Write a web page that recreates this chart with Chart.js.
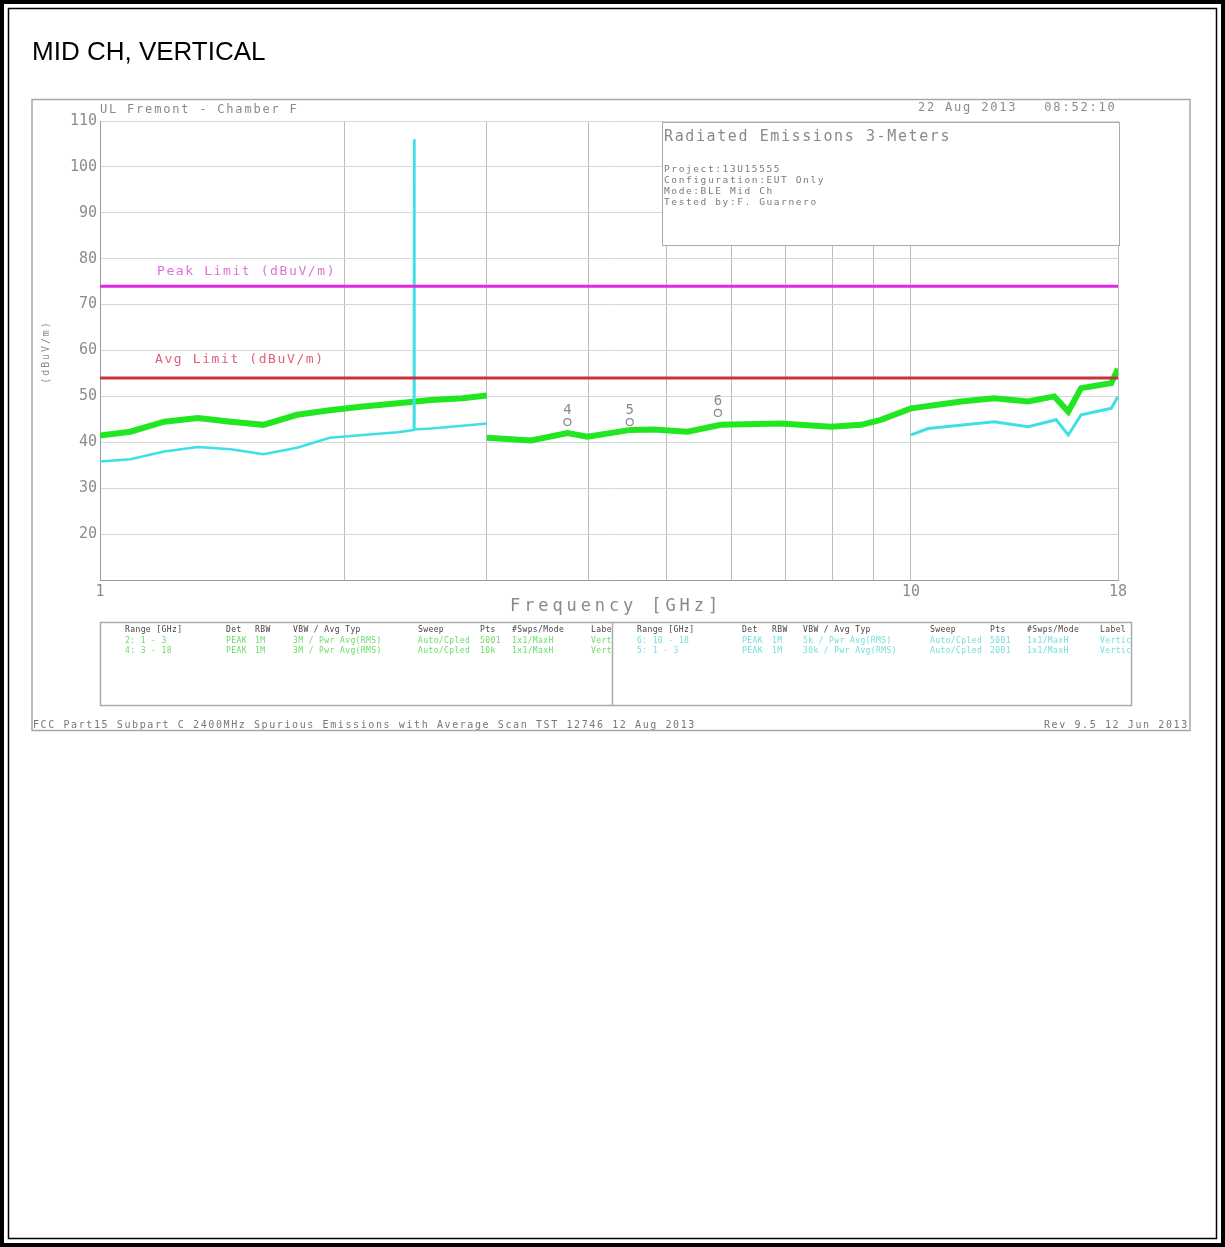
<!DOCTYPE html>
<html>
<head>
<meta charset="utf-8">
<title>MID CH, VERTICAL</title>
<script src="https://cdn.jsdelivr.net/npm/chart.js@4.4.1/dist/chart.umd.min.js"></script>
<style>
  html, body { margin: 0; padding: 0; background: #fff; }
  #plot { display: block; }
</style>
</head>
<body>
<canvas id="plot" width="1225" height="1247"></canvas>
<script>
// peak trace, 1-3 GHz sweep
const freqPk1 = [1.0, 1.09, 1.2, 1.32, 1.45, 1.59, 1.75, 1.92, 2.11, 2.33, 2.56, 2.8, 3.0];
const levelPk1 = [41.5, 42.3, 44.5, 45.3, 44.5, 43.8, 46.0, 47.0, 47.8, 48.5, 49.2, 49.6, 50.2];

// peak trace, 3-18 GHz sweep
const freqPk2 = [3.0, 3.4, 3.77, 3.99, 4.51, 4.82, 5.3, 5.83, 6.91, 7.96, 8.68, 9.18, 10.0, 11.53, 12.66, 13.95, 15.02, 15.63, 16.21, 17.66, 18.0];
const levelPk2 = [41.0, 40.4, 42.0, 41.2, 42.7, 42.8, 42.3, 43.8, 44.1, 43.4, 43.8, 44.9, 47.4, 48.9, 49.6, 48.9, 50.0, 46.7, 51.8, 52.9, 56.0];

// average trace, 1-3 GHz (carrier at 2.44 GHz)
const freqAv1 = [1.0, 1.09, 1.2, 1.32, 1.45, 1.59, 1.75, 1.92, 2.11, 2.33, 2.438, 2.44, 2.442, 2.56, 2.8, 3.0];
const levelAv1 = [35.8, 36.3, 38.0, 39.0, 38.5, 37.4, 38.8, 41.0, 41.6, 42.2, 42.7, 106.0, 42.8, 43.0, 43.6, 44.1];

// average trace, 10-18 GHz
const freqAv2 = [10.0, 10.5, 12.66, 13.95, 15.1, 15.63, 16.21, 17.66, 18.0];
const levelAv2 = [41.6, 43.0, 44.5, 43.4, 44.9, 41.6, 46.0, 47.4, 50.0];

// limits
const peakLimit = 74;
const avgLimit = 54;

// marked points
const markerIds = ['4', '5', '6'];
const markerFreq = [3.77, 4.5, 5.78];
const markerLevel = [44.4, 44.4, 46.4];

// axes
const yTicks = [10, 20, 30, 40, 50, 60, 70, 80, 90, 100, 110];
const xGrid = [1, 2, 3, 4, 5, 6, 7, 8, 9, 10, 18];
const xLabels = [1, 10, 18];

// table under the plot
const tableHead = ['Range [GHz]', 'Det', 'RBW', 'VBW / Avg Typ', 'Sweep', 'Pts', '#Swps/Mode', 'Label'];
const tableLeft = [
  ['2: 1 - 3', 'PEAK', '1M', '3M / Pwr Avg(RMS)', 'Auto/Cpled', '5001', '1x1/MaxH', 'Vert'],
  ['4: 3 - 18', 'PEAK', '1M', '3M / Pwr Avg(RMS)', 'Auto/Cpled', '10k', '1x1/MaxH', 'Vert']
];
const tableRight = [
  ['6: 10 - 18', 'PEAK', '1M', '5k / Pwr Avg(RMS)', 'Auto/Cpled', '5001', '1x1/MaxH', 'Vertical'],
  ['5: 1 - 3', 'PEAK', '1M', '30k / Pwr Avg(RMS)', 'Auto/Cpled', '2001', '1x1/MaxH', 'Vertical']
];
const colLeft = [125, 226, 255, 293, 418, 480, 512, 591];
const colRight = [637, 742, 772, 803, 930, 990, 1027, 1100];

const GREEN = '#22e622';
const CYAN = '#3ee0e6';
const MONO = '"DejaVu Sans Mono", monospace';

const pts = (xs, ys) => xs.map((x, i) => ({ x: x, y: ys[i] }));

function put(ctx, str, x, y, size, color, spacing, align) {
  ctx.save();
  ctx.font = size + 'px ' + MONO;
  ctx.fillStyle = color;
  ctx.textAlign = align || 'left';
  ctx.textBaseline = 'middle';
  ctx.letterSpacing = (spacing || 0) + 'px';
  ctx.fillText(str, x, y);
  ctx.restore();
}

function tableHalf(ctx, cols, rows, color, left, width) {
  ctx.save();
  ctx.beginPath();
  ctx.rect(left, 623, width, 82);
  ctx.clip();
  tableHead.forEach((h, j) => put(ctx, h, cols[j], 630, 8, '#444', 0.4));
  rows.forEach((r, k) => r.forEach((c, j) => put(ctx, c, cols[j], 641 + k * 10, 8, color, 0.4)));
  ctx.restore();
}

const sheet = {
  id: 'sheet',
  beforeDraw(chart) {
    const ctx = chart.ctx;
    ctx.save();
    // page frame
    ctx.strokeStyle = '#000';
    ctx.lineWidth = 4;
    ctx.strokeRect(2, 2, 1221, 1243);
    ctx.lineWidth = 1.5;
    ctx.strokeRect(8.5, 8.5, 1208, 1230);
    ctx.fillStyle = '#000';
    ctx.font = '26px "Liberation Sans", Arial, sans-serif';
    ctx.textBaseline = 'alphabetic';
    ctx.fillText('MID CH, VERTICAL', 32, 60);
    // plot sheet frame
    ctx.strokeStyle = '#a8a8a8';
    ctx.lineWidth = 1.5;
    ctx.strokeRect(32, 99.5, 1158, 631);
    ctx.restore();
  },
  beforeDatasetsDraw(chart) {
    const ctx = chart.ctx;
    ctx.save();
    ctx.fillStyle = '#fff';
    ctx.fillRect(662, 122, 458, 123);
    ctx.strokeStyle = '#aaa';
    ctx.lineWidth = 1;
    ctx.strokeRect(662.5, 122.5, 457, 123);
    ctx.restore();
    put(ctx, 'Radiated Emissions 3-Meters', 664, 137, 15, '#8a8a8a', 1.6);
    put(ctx, 'Project:13U15555', 664, 170, 9.5, '#7a7a7a', 1.6);
    put(ctx, 'Configuration:EUT Only', 664, 181, 9.5, '#7a7a7a', 1.6);
    put(ctx, 'Mode:BLE Mid Ch', 664, 192, 9.5, '#7a7a7a', 1.6);
    put(ctx, 'Tested by:F. Guarnero', 664, 203, 9.5, '#7a7a7a', 1.6);
    put(ctx, 'Peak Limit (dBuV/m)', 157, 272, 13, '#e070d8', 1.6);
    put(ctx, 'Avg Limit (dBuV/m)', 155, 360, 13, '#e0607a', 1.6);
  },
  afterDatasetsDraw(chart) {
    const ctx = chart.ctx;
    const xs = chart.scales.x, ys = chart.scales.y;
    markerIds.forEach((id, i) => {
      const px = xs.getPixelForValue(markerFreq[i]);
      const py = ys.getPixelForValue(markerLevel[i]);
      put(ctx, id, px, py - 12, 14, '#8a8a8a', 0, 'center');
    });
  },
  afterDraw(chart) {
    const ctx = chart.ctx;
    put(ctx, 'UL Fremont - Chamber F', 100, 110, 12, '#8a8a8a', 1.8);
    put(ctx, '22 Aug 2013   08:52:10', 918, 108, 12, '#8a8a8a', 1.8);
    put(ctx, 'Frequency [GHz]', 510, 607, 17, '#8a8a8a', 3.9);
    ctx.save();
    ctx.translate(46, 352);
    ctx.rotate(-Math.PI / 2);
    put(ctx, '(dBuV/m)', 0, 0, 10, '#8a8a8a', 1.9, 'center');
    ctx.restore();

    // sweep table
    ctx.save();
    ctx.strokeStyle = '#aaa';
    ctx.lineWidth = 1.5;
    ctx.strokeRect(100.5, 622.5, 1031, 83);
    ctx.beginPath();
    ctx.moveTo(612.5, 622.5);
    ctx.lineTo(612.5, 705.5);
    ctx.stroke();
    ctx.restore();
    tableHalf(ctx, colLeft, tableLeft, '#66dd66', 101, 510);
    tableHalf(ctx, colRight, tableRight, '#70dede', 614, 516);

    put(ctx, 'FCC Part15 Subpart C 2400MHz Spurious Emissions with Average Scan TST 12746 12 Aug 2013', 33, 725, 10, '#777', 1.6);
    put(ctx, 'Rev 9.5 12 Jun 2013', 1044, 725, 10, '#777', 1.6);
  }
};

const ctx = document.getElementById('plot').getContext('2d');
new Chart(ctx, {
  type: 'line',
  data: {
    datasets: [
      {
        label: 'Markers',
        data: pts(markerFreq, markerLevel),
        showLine: false,
        pointRadius: 3.5,
        pointBorderWidth: 1.2,
        pointBorderColor: '#8a8a8a',
        pointBackgroundColor: 'rgba(255,255,255,0)'
      },
      {
        label: 'Peak Limit',
        data: [{ x: 1, y: peakLimit }, { x: 18, y: peakLimit }],
        borderColor: '#e028e0',
        borderWidth: 3,
        pointRadius: 0
      },
      {
        label: 'Avg Limit',
        data: [{ x: 1, y: avgLimit }, { x: 18, y: avgLimit }],
        borderColor: '#c8323c',
        borderWidth: 3,
        pointRadius: 0
      },
      {
        label: 'Avg 1-3',
        data: pts(freqAv1, levelAv1),
        borderColor: CYAN,
        borderWidth: 2.5,
        pointRadius: 0
      },
      {
        label: 'Avg 10-18',
        data: pts(freqAv2, levelAv2),
        borderColor: CYAN,
        borderWidth: 3,
        pointRadius: 0
      },
      {
        label: 'Peak 1-3',
        data: pts(freqPk1, levelPk1),
        borderColor: GREEN,
        borderWidth: 6,
        pointRadius: 0
      },
      {
        label: 'Peak 3-18',
        data: pts(freqPk2, levelPk2),
        borderColor: GREEN,
        borderWidth: 6,
        pointRadius: 0
      }
    ]
  },
  options: {
    responsive: false,
    animation: false,
    events: [],
    layout: { padding: { left: 30, top: 121, right: 107, bottom: 647 } },
    plugins: {
      legend: { display: false },
      tooltip: { enabled: false }
    },
    scales: {
      x: {
        type: 'logarithmic',
        min: 1,
        max: 18,
        afterBuildTicks: s => { s.ticks = xGrid.map(v => ({ value: v })); },
        afterFit: s => { s.height = 20; },
        ticks: {
          autoSkip: false,
          maxRotation: 0,
          padding: 3,
          color: '#8c8c8c',
          font: { family: MONO, size: 15 },
          callback: v => xLabels.includes(v) ? String(v) : ''
        },
        grid: { color: '#bcbcbc', drawTicks: false },
        border: { color: '#9a9a9a' }
      },
      y: {
        min: 10,
        max: 110,
        afterBuildTicks: s => { s.ticks = yTicks.map(v => ({ value: v })); },
        afterFit: s => { s.width = 70; },
        ticks: {
          padding: 3,
          color: '#8c8c8c',
          font: { family: MONO, size: 15 },
          callback: v => v === 10 ? '' : String(v)
        },
        grid: { color: '#cfdcdc', drawTicks: false },
        border: { color: '#9a9a9a' }
      }
    }
  },
  plugins: [sheet]
});
</script>
</body>
</html>
